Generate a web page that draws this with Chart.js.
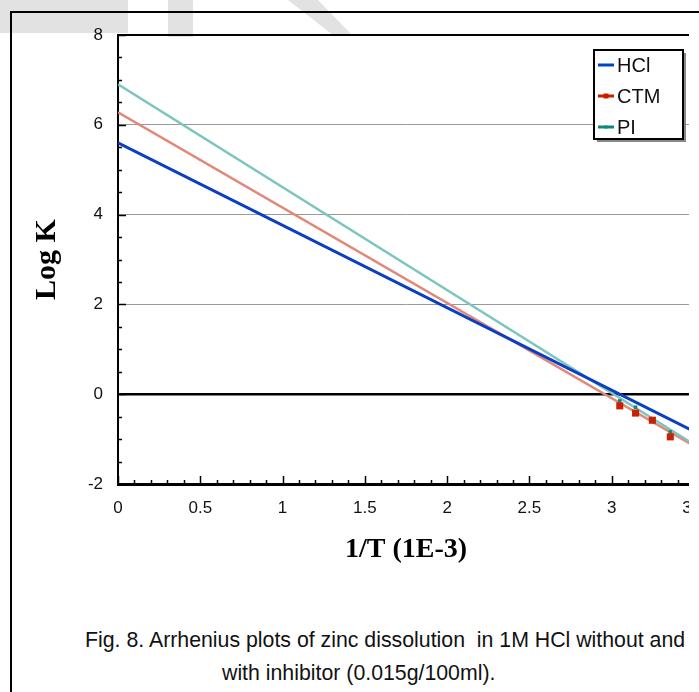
<!DOCTYPE html>
<html>
<head>
<meta charset="utf-8">
<script src="https://cdn.jsdelivr.net/npm/chart.js@4.4.1/dist/chart.umd.min.js"></script>
<style>
    html, body { margin: 0; padding: 0; background: #fff; overflow: hidden; }
    body { width: 699px; height: 692px; position: relative; }
    .wm { position: absolute; background: #e2e2e2; }
    #frame { position: absolute; left: 10px; top: 11px; width: 800px; height: 800px; border: 2px solid #000; }
    #wrap { position: absolute; left: 0; top: 0; width: 689px; height: 600px; overflow: hidden; }
    #wrap canvas { position: absolute; left: 0; top: 0; }
    .cap { position: absolute; font-family: 'Liberation Sans', Arial, sans-serif;
           font-size: 21.3px; color: #111; white-space: pre; line-height: 24px; }
</style>
</head>
<body>
<div class="wm" style="left:0;top:0;width:128px;height:33px"></div>
<div class="wm" style="left:168px;top:0;width:25px;height:37px"></div>
<div class="wm" style="left:288px;top:0;width:64px;height:35px;clip-path:polygon(0 0,47% 0,100% 100%,70% 100%)"></div>
<div id="frame"></div>
<div id="wrap"><canvas id="chart" width="720" height="600"></canvas></div>
<div class="cap" style="left:85px;top:628px">Fig. 8. Arrhenius plots of zinc dissolution  in 1M HCl without and</div>
<div class="cap" style="left:222px;top:661px">with inhibitor (0.015g/100ml).</div>
<script>
// 1/T values (1E-3 K^-1) for 298, 308, 318, 328 K
const invT = [3.356, 3.247, 3.145, 3.049];
const ctmLogK = [-0.95, -0.58, -0.42, -0.26];
const piLogK = [-0.84, -0.55, -0.29, -0.15];

// trendline ends (x = 0 and x = 3.5)
const trendX = [0, 3.5];
const hclTrend = [5.6, -0.83];
const ctmTrend = [6.28, -1.15];
const piTrend = [6.9, -1.12];

const seriesNames = ['HCl', 'CTM', 'PI'];
const yTicks = [-2, 0, 2, 4, 6, 8];
const xTicks = [0, 0.5, 1, 1.5, 2, 2.5, 3, 3.5];

const tickFont = "'Liberation Sans', Arial, sans-serif";
const titleFont = "'Liberation Serif', 'Times New Roman', serif";

function toPoints(xs, ys) {
    return xs.map((x, i) => ({ x: x, y: ys[i] }));
}

// border, inward ticks and the boxed legend, drawn on the canvas
const extras = {
    id: 'extras',
    beforeDatasetsDraw(chart) {
        const ctx = chart.ctx;
        const a = chart.chartArea;
        const xs = chart.scales.x, ys = chart.scales.y;
        ctx.save();
        ctx.strokeStyle = '#000';
        ctx.lineWidth = 2;
        ctx.beginPath();
        ctx.moveTo(a.left - 1, a.top);
        ctx.lineTo(a.right + 5, a.top);
        ctx.stroke();
        ctx.lineWidth = 1.5;
        for (let v = -2; v <= 8.001; v += 0.5) {
            const p = Math.round(ys.getPixelForValue(v)) + 0.5;
            const len = (Math.abs(v % 2) < 0.01) ? 8 : 4;
            ctx.beginPath();
            ctx.moveTo(a.left, p);
            ctx.lineTo(a.left + len, p);
            ctx.stroke();
        }
        for (let i = 0; i <= 35; i++) {
            const p = Math.round(xs.getPixelForValue(i / 10)) + 0.5;
            const len = (i % 5 === 0) ? 8 : 4;
            ctx.beginPath();
            ctx.moveTo(p, a.bottom);
            ctx.lineTo(p, a.bottom - len);
            ctx.stroke();
        }
        ctx.restore();
    },
    afterDraw(chart) {
        const ctx = chart.ctx;
        const bx = 594, by = 50, bw = 89, bh = 89;
        ctx.save();
        ctx.fillStyle = '#888';
        ctx.fillRect(bx + 3, by + 3, bw, bh);
        ctx.fillStyle = '#fff';
        ctx.fillRect(bx, by, bw, bh);
        ctx.strokeStyle = '#000';
        ctx.lineWidth = 2;
        ctx.strokeRect(bx, by, bw, bh);
        const colors = ['#0044cc', '#c42000', '#108878'];
        const marks = [0, 5, 3];
        ctx.font = "20px " + tickFont;
        ctx.textBaseline = 'middle';
        seriesNames.forEach((name, i) => {
            const y = by + 15 + i * 31;
            ctx.strokeStyle = colors[i];
            ctx.lineWidth = 3;
            ctx.beginPath();
            ctx.moveTo(bx + 4, y);
            ctx.lineTo(bx + 20, y);
            ctx.stroke();
            if (marks[i]) {
                ctx.fillStyle = colors[i];
                ctx.fillRect(bx + 12 - marks[i] / 2, y - marks[i] / 2, marks[i], marks[i]);
            }
            ctx.fillStyle = '#111';
            ctx.fillText(name, bx + 23, y + 1);
        });
        ctx.restore();
    }
};

const chart = new Chart(document.getElementById('chart'), {
    type: 'scatter',
    data: {
        datasets: [
            { label: 'CTM pts', data: toPoints(invT, ctmLogK), pointStyle: 'rect', pointRadius: 5,
              backgroundColor: '#c82000', borderColor: '#c82000', borderWidth: 0, showLine: false, order: 0 },
            { label: 'PI pts', data: toPoints(invT, piLogK), pointStyle: 'rect', pointRadius: 2.5,
              backgroundColor: '#108878', borderColor: '#108878', borderWidth: 0, showLine: false, order: 1 },
            { label: 'HCl', data: toPoints(trendX, hclTrend), showLine: true, pointRadius: 0,
              borderColor: '#0a3fc4', borderWidth: 3, order: 2 },
            { label: 'PI', data: toPoints(trendX, piTrend), showLine: true, pointRadius: 0,
              borderColor: '#7cc6bf', borderWidth: 2.5, order: 3 },
            { label: 'CTM', data: toPoints(trendX, ctmTrend), showLine: true, pointRadius: 0,
              borderColor: '#e2887a', borderWidth: 2.5, order: 4 }
        ]
    },
    options: {
        responsive: false,
        animation: false,
        layout: { padding: { left: 0, top: 35, right: 26, bottom: 32 } },
        plugins: { legend: { display: false }, tooltip: { enabled: false } },
        scales: {
            x: {
                type: 'linear', min: 0, max: 3.5,
                afterFit: (s) => { s.height = 84; },
                afterBuildTicks: (s) => { s.ticks = xTicks.map(v => ({ value: v })); },
                grid: { display: false, drawTicks: false },
                border: { display: true, color: '#000', width: 3 },
                ticks: { padding: 14, color: '#111', font: { family: tickFont, size: 17 },
                         callback: (v) => String(v) },
                title: { display: true, text: '1/T (1E-3)', color: '#000', padding: { top: 0, bottom: 1 },
                         font: { family: titleFont, size: 28, weight: 'bold' } }
            },
            y: {
                type: 'linear', min: -2, max: 8,
                afterFit: (s) => { s.width = 118; },
                afterBuildTicks: (s) => { s.ticks = yTicks.map(v => ({ value: v })); },
                grid: {
                    drawTicks: false,
                    color: (c) => c.tick.value === 0 ? '#000' : (c.tick.value === 8 || c.tick.value === -2 ? 'rgba(0,0,0,0)' : '#9a9a9a'),
                    lineWidth: (c) => c.tick.value === 0 ? 2.5 : 1
                },
                border: { display: true, color: '#000', width: 2 },
                ticks: { padding: 15, color: '#111', font: { family: tickFont, size: 17 },
                         callback: (v) => String(v) },
                title: { display: true, text: 'Log K', color: '#000', padding: { top: 29, bottom: 0 },
                         font: { family: titleFont, size: 30, weight: 'bold' } }
            }
        }
    },
    plugins: [extras]
});
</script>
</body>
</html>
